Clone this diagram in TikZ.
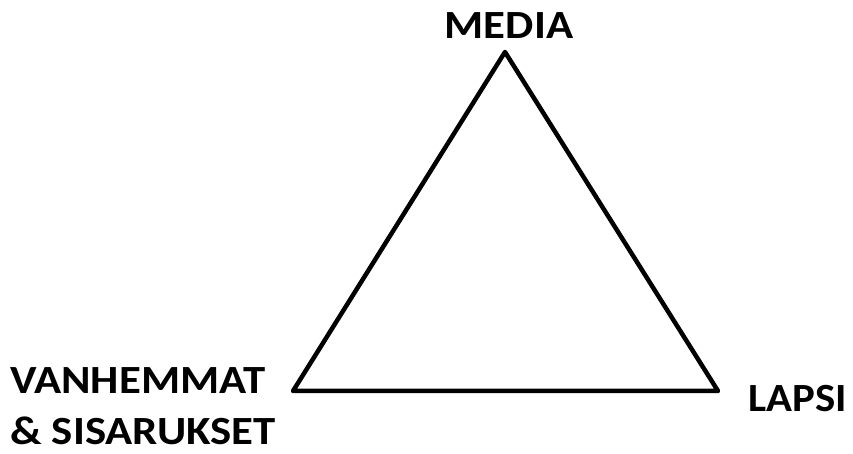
\documentclass[tikz,border=0pt]{standalone}
\usepackage{fontspec}
\setmainfont{Carlito}
\usepackage{tikz}
\usetikzlibrary{positioning}
\newcommand{\wide}[1]{\scalebox{1.12}[1]{#1}}

\begin{document}
\begin{tikzpicture}[
  x=1pt,y=1pt,
  lbl/.style={font=\fontsize{40}{51}\selectfont\bfseries,inner sep=0pt,align=left},
  edge/.style={line width=4.5pt,line join=round}
]
\useasboundingbox (0,0) rectangle (853,454);
\coordinate (media) at (505,402);
\coordinate (parents) at (293,63);
\coordinate (child) at (718,63);
\draw[edge] (media) -- (parents) -- (child) -- cycle;
\node[lbl,anchor=base] (mtext) at (509,415) {\wide{MEDIA}};
\node[lbl,anchor=base west] (ptext) at (10,9) {\wide{VANHEMMAT}\\\wide{\& SISARUKSET}};
\node[lbl,anchor=base west] (ctext) at (748,42) {\scalebox{1.07}[1]{LAPSI}};
\end{tikzpicture}
\end{document}
